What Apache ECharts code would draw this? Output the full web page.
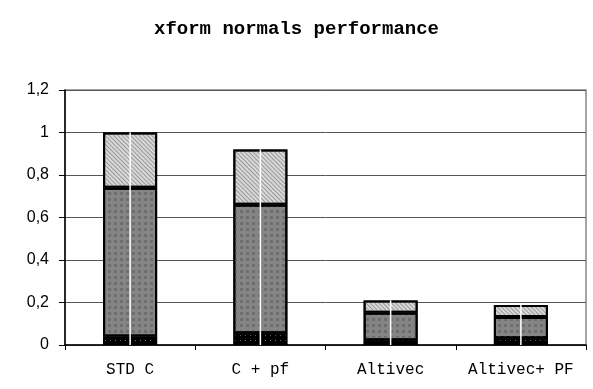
<!DOCTYPE html>
<html><head><meta charset="utf-8">
<script src="https://cdn.jsdelivr.net/npm/echarts@6/dist/echarts.min.js"></script>
<style>html,body{margin:0;padding:0;background:#fff}#c{width:593px;height:389px}</style>
</head><body><div id="c"></div>
<script>
const title = 'xform normals performance';
const categories = ['STD C', 'C + pf', 'Altivec', 'Altivec+ PF'];
const bottomPart = [0.04, 0.055, 0.022, 0.032];
const middlePart = [0.70, 0.605, 0.13, 0.10];
const topPart = [0.26, 0.26, 0.058, 0.056];
const yTicks = [0, 0.2, 0.4, 0.6, 0.8, 1.0, 1.2];

const totals = categories.map((c, i) => bottomPart[i] + middlePart[i] + topPart[i]);
const chart = echarts.init(document.getElementById('c'), null, {renderer: 'canvas'});
const border = {borderColor: '#000', borderWidth: 2};
chart.setOption({
  animation: false,
  backgroundColor: '#fff',
  title: {text: title, left: 'center', top: 15,
    textStyle: {fontFamily: 'Liberation Mono', fontWeight: 'bold', fontSize: 19, color: '#000'}},
  grid: {left: 65, right: 7, top: 90, bottom: 44, containLabel: false,
    show: true, borderColor: '#888', borderWidth: 1.5},
  xAxis: [{
    type: 'category', data: categories,
    axisLine: {lineStyle: {color: '#000', width: 1.5}},
    axisTick: {show: true, length: 5, interval: 0, lineStyle: {color: '#000'}},
    axisLabel: {interval: 0, fontFamily: 'Liberation Mono', fontSize: 16, color: '#000', margin: 17}
  }, {
    type: 'category', data: categories, show: false
  }],
  yAxis: {
    type: 'value', min: 0, max: 1.2, interval: 0.2,
    axisLine: {show: true, lineStyle: {color: '#000', width: 1.5}},
    axisTick: {show: true, length: 6, inside: false, lineStyle: {color: '#000'}},
    axisLabel: {fontFamily: 'Liberation Sans', fontSize: 16, color: '#000', margin: 16,
      formatter: v => {
        const t = yTicks.find(x => Math.abs(x - v) < 1e-9);
        return (t === undefined ? v : t).toString().replace('.', ',');
      }},
    splitLine: {lineStyle: {color: '#555', width: 1}}
  },
  series: [{
    type: 'bar', stack: 's', data: bottomPart, barWidth: 54,
    itemStyle: Object.assign({color: '#000', decal: {symbol: 'rect', color: '#777', symbolSize: 1,
      dashArrayX: [1, 4], dashArrayY: [1, 4]}}, border)
  }, {
    type: 'bar', stack: 's', data: middlePart, barWidth: 54,
    itemStyle: Object.assign({color: '#858585', decal: {symbol: 'rect', color: '#6e6e6e', symbolSize: 1,
      dashArrayX: [3, 3], dashArrayY: [3, 3]}}, border)
  }, {
    type: 'bar', stack: 's', data: topPart, barWidth: 54,
    itemStyle: Object.assign({color: '#d8d8d8', decal: {symbol: 'rect', color: '#999', symbolSize: 1,
      dashArrayX: [1, 0], dashArrayY: [1, 1.5], rotation: Math.PI / 4}}, border)
  }, {
    type: 'bar', xAxisIndex: 1, data: totals, barWidth: 1.5, z: 5,
    itemStyle: {color: '#fff'}
  }]
});
</script></body></html>
